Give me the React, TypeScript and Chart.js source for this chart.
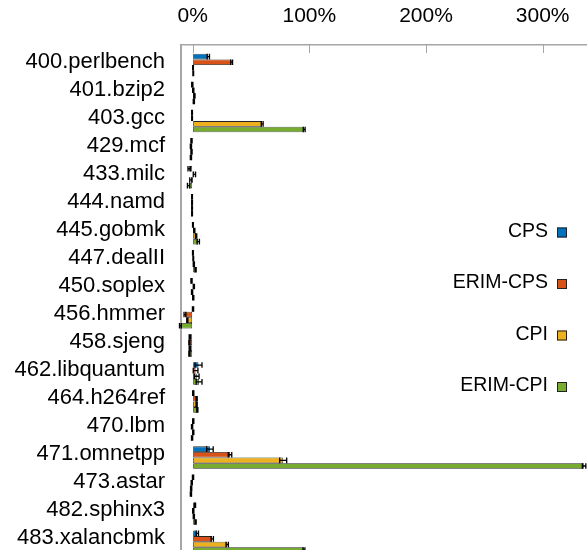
import React, { useEffect, useRef } from 'react';
import { Chart, registerables } from 'chart.js';

Chart.register(...registerables);

const categories = [
  '400.perlbench', '401.bzip2', '403.gcc', '429.mcf', '433.milc', '444.namd',
  '445.gobmk', '447.dealII', '450.soplex', '456.hmmer', '458.sjeng',
  '462.libquantum', '464.h264ref', '470.lbm', '471.omnetpp', '473.astar',
  '482.sphinx3', '483.xalancbmk',
];
const seriesLabels = ['CPS', 'ERIM-CPS', 'CPI', 'ERIM-CPI'];
const seriesColors = ['#0072BD', '#D95319', '#EDB120', '#77AC30'];

// percent overhead values
const cps = [13.4, -0.3, -0.5, -1.0, -3.0, -0.5, 0.2, 0.2, -1.0, 0.3, -2.5, 5.0, 0.5, 0.5, 14.8, 0.3, 2.0, 4.0];
const erimCps = [33.4, 0.5, -0.5, -1.5, 1.5, -0.5, 1.4, 0.5, 1.0, -6.6, -2.8, 2.5, 3.4, -0.5, 32.0, -0.8, 0.5, 16.8];
const cpi = [0.3, 1.5, 59.6, -1.0, -1.5, -0.5, 3.0, 1.0, -0.5, -4.6, -2.5, 3.5, 3.4, 0.5, 77.6, -1.3, 1.0, 29.6];
const erimCpi = [0.5, 1.0, 95.6, -1.5, -3.5, -0.5, 4.8, 2.5, 0.5, -10.5, -2.8, 5.5, 4.0, -0.5, 335.5, -1.5, 2.5, 95.4];

// error bar half-widths (percent)
const cpsErr = [1.0, 0.5, 0.3, 0.5, 1.0, 0.3, 0.3, 0.3, 0.5, 0.5, 0.5, 3.0, 0.5, 0.5, 2.8, 0.5, 0.5, 1.0];
const erimCpsErr = [0.8, 0.5, 0.3, 0.5, 1.0, 0.3, 0.5, 0.3, 0.5, 0.8, 0.5, 2.0, 0.5, 0.5, 1.5, 0.5, 0.5, 1.0];
const cpiErr = [0.3, 0.5, 0.8, 0.5, 1.0, 0.3, 0.5, 0.5, 0.5, 0.5, 0.5, 2.0, 0.5, 0.5, 3.0, 0.5, 0.5, 1.0];
const erimCpiErr = [0.3, 0.5, 0.8, 0.5, 1.0, 0.3, 1.0, 0.5, 0.5, 0.8, 0.5, 2.5, 0.5, 0.5, 1.5, 0.5, 0.5, 0.8];

const xTicks = [0, 100, 200, 300];

const FONT = "'Liberation Sans', Arial, Helvetica, sans-serif";

export default function App() {
  const ref = useRef<HTMLCanvasElement>(null);

  useEffect(() => {
    if (!ref.current) return;
    const values = [cps, erimCps, cpi, erimCpi];
    const errors = [cpsErr, erimCpsErr, cpiErr, erimCpiErr];

    const errorBars = {
      id: 'errorBars',
      afterDatasetsDraw(chart: any) {
        const ctx = chart.ctx;
        const xs = chart.scales.x;
        ctx.save();
        ctx.strokeStyle = '#000';
        ctx.lineWidth = 1.3;
        chart.data.datasets.forEach((_ds: any, i: number) => {
          const meta = chart.getDatasetMeta(i);
          meta.data.forEach((bar: any, j: number) => {
            const v = values[i][j];
            const e = errors[i][j];
            const x1 = xs.getPixelForValue(v - e);
            const x2 = xs.getPixelForValue(v + e);
            const y = bar.y;
            const h = bar.height * 0.5;
            ctx.beginPath();
            ctx.moveTo(x1, y);
            ctx.lineTo(x2, y);
            ctx.moveTo(x1, y - h);
            ctx.lineTo(x1, y + h);
            ctx.moveTo(x2, y - h);
            ctx.lineTo(x2, y + h);
            ctx.stroke();
          });
        });
        ctx.restore();
      },
    };

    const innerTicks = {
      id: 'innerTicks',
      afterDraw(chart: any) {
        const ctx = chart.ctx;
        const xs = chart.scales.x;
        const top = chart.chartArea.top;
        ctx.save();
        ctx.strokeStyle = '#a6a6a6';
        ctx.lineWidth = 1;
        xs.ticks.forEach((t: any) => {
          const px = Math.round(xs.getPixelForValue(t.value)) + 0.5;
          ctx.beginPath();
          ctx.moveTo(px, top);
          ctx.lineTo(px, top + 8);
          ctx.stroke();
        });
        ctx.restore();
      },
    };

    const sideLegend = {
      id: 'sideLegend',
      afterDraw(chart: any) {
        const ctx = chart.ctx;
        const { right, top } = chart.chartArea;
        ctx.save();
        ctx.font = `19.5px ${FONT}`;
        ctx.textAlign = 'right';
        ctx.textBaseline = 'middle';
        chart.data.datasets.forEach((ds: any, i: number) => {
          const y = top + 186.5 + i * 51.5;
          ctx.fillStyle = '#000';
          ctx.fillText(ds.label, right - 39, y);
          ctx.fillStyle = ds.backgroundColor;
          ctx.fillRect(right - 30, y - 4, 10, 10);
          ctx.strokeStyle = '#222';
          ctx.lineWidth = 1;
          ctx.strokeRect(right - 29.5, y - 3.5, 9, 9);
        });
        ctx.restore();
      },
    };

    const datasets = seriesLabels.map((label, i) => ({
      label,
      data: values[i].map((v, j) => ({ x: v, y: j })),
      backgroundColor: seriesColors[i],
      borderColor: '#222',
      borderWidth: 0.8,
      borderSkipped: false,
      minBarLength: 1.5,
      clip: false as any,
    }));

    const chart = new Chart(ref.current, {
      type: 'bar',
      data: { datasets: datasets as any },
      options: {
        animation: false,
        responsive: false,
        indexAxis: 'y',
        layout: { padding: 0 },
        datasets: { bar: { categoryPercentage: 0.8, barPercentage: 1.0 } },
        plugins: { legend: { display: false }, tooltip: { enabled: false } },
        scales: {
          x: {
            type: 'linear',
            position: 'top',
            min: -10,
            max: 338,
            offset: false,
            afterBuildTicks: (s: any) => {
              s.ticks = xTicks.map((v) => ({ value: v }));
            },
            afterFit: (s: any) => {
              s.height = 45;
              s.paddingLeft = 0;
              s.paddingRight = 0;
            },
            grid: { drawOnChartArea: false, drawTicks: false },
            border: { display: true, color: '#a6a6a6', width: 1.5 },
            ticks: {
              callback: (v: any) => `${v}%`,
              padding: 16,
              color: '#000',
              font: { size: 21, family: FONT },
              maxRotation: 0,
              autoSkip: false,
            },
          },
          y: {
            type: 'linear',
            reverse: true,
            offset: false,
            min: -0.713,
            max: 17.51,
            afterBuildTicks: (s: any) => {
              s.ticks = categories.map((_c, i) => ({ value: i }));
            },
            afterFit: (s: any) => {
              s.width = 181;
              s.paddingTop = 0;
              s.paddingBottom = 0;
            },
            grid: { drawOnChartArea: false, drawTicks: false, offset: false },
            border: { display: true, color: '#a6a6a6', width: 2 },
            ticks: {
              callback: (v: any) => categories[Math.round(Number(v))] ?? '',
              padding: 16,
              labelOffset: -3.3,
              color: '#000',
              font: { size: 22, family: FONT },
              autoSkip: false,
            },
          },
        },
      } as any,
      plugins: [errorBars, innerTicks, sideLegend],
    });

    return () => chart.destroy();
  }, []);

  return (
    <div style={{ position: 'fixed', left: 0, top: 0, width: 587, height: 556, background: '#fff' }}>
      <canvas ref={ref} width={587} height={556} style={{ display: 'block' }} />
    </div>
  );
}
